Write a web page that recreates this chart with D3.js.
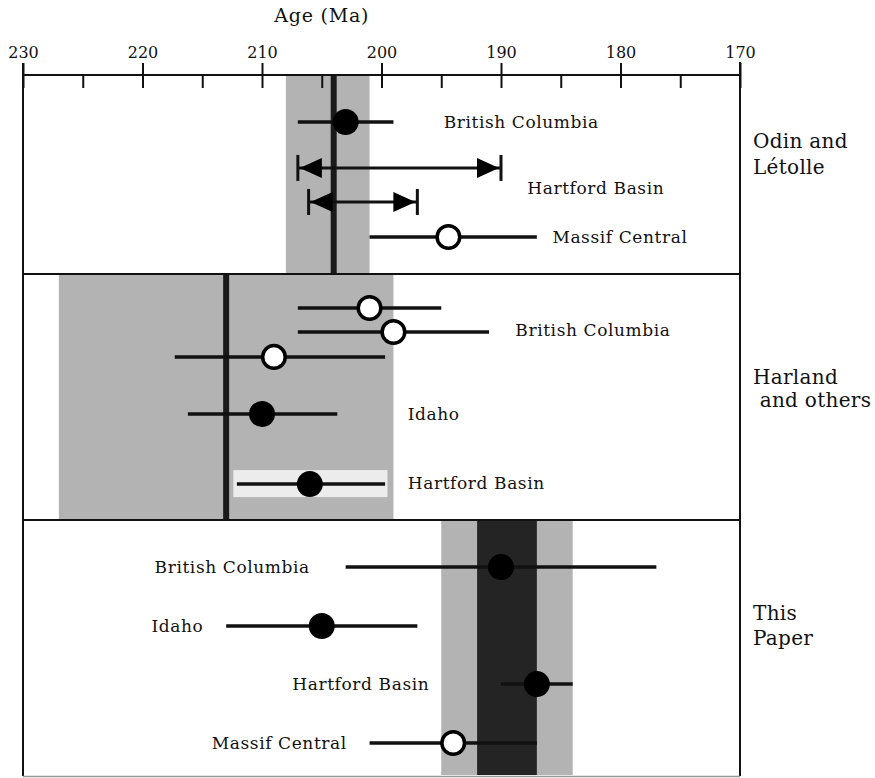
<!DOCTYPE html>
<meta charset="utf-8">
<title>Age (Ma) comparison</title>
<script src="https://d3js.org/d3.v7.min.js"></script>
<style>
body { margin: 0; background: #fff; }
svg { display: block; }
text { font-family: "DejaVu Serif", "Liberation Serif", serif; fill: #111; }
.axis path { display: none; }
.axis line { stroke: #111; stroke-width: 2px; }
.axis text { font-size: 16px; font-family: "DejaVu Serif", serif; fill: #111; }
.rowlabel { font-size: 17px; letter-spacing: 0.6px; }
.panellabel { font-size: 20px; letter-spacing: 0.3px; }
</style>
<body>
<div id="vis"></div>
<script>

// ---- data ----
var majorTicks = [230, 220, 210, 200, 190, 180, 170];
var minorTicks = [225, 215, 205, 195, 185, 175];

var panels = ["Odin and Létolle", "Harland and others", "This Paper"];
var panelLabelLines = [["Odin and", "Létolle"], ["Harland", " and others"], ["This", "Paper"]];

// shaded age ranges per panel [panel, from, to, tone]
var bands = [
  [0, 208, 201, "light"],
  [1, 227, 199, "light"],
  [2, 195, 184, "light"],
  [2, 192, 187, "dark"]
];
// preferred age (heavy vertical line) per panel
var centerLines = [[0, 204], [1, 213]];

// dated points: panel, slot (0-10 down the panel), age, min, max, filled?
var points = [
  [0, 2.36, 203, 207, 199, true],
  [0, 8.14, 194.4, 201, 187, false],
  [1, 1.38, 201, 207, 195, false],
  [1, 2.36, 199, 207, 191, false],
  [1, 3.37, 209, 217.3, 199.7, false],
  [1, 5.69, 210, 216.2, 203.7, true],
  [1, 8.54, 206, 212.1, 199.7, true],
  [2, 1.84, 190, 203, 177, true],
  [2, 4.14, 205, 213, 197, true],
  [2, 6.41, 187, 190, 184, true],
  [2, 8.71, 194, 201, 187, false]
];
// age ranges drawn with arrow heads (Hartford Basin, Odin and Létolle)
var arrowRanges = [
  [0, 4.67, 207, 190],
  [0, 6.38, 206.1, 197]
];
// pale strip behind the Harland Hartford Basin point
var strips = [[1, 8.54, 212.4, 199.5]];

// row labels: panel, slot, age anchor, anchor side
var labels = [
  [0, 2.36, 194.8, "British Columbia", "start"],
  [0, 5.65, 187.8, "Hartford Basin", "start"],
  [0, 8.14, 185.7, "Massif Central", "start"],
  [1, 2.28, 188.8, "British Columbia", "start"],
  [1, 5.69, 197.8, "Idaho", "start"],
  [1, 8.5, 197.8, "Hartford Basin", "start"],
  [2, 1.84, 206, "British Columbia", "end"],
  [2, 4.14, 214.9, "Idaho", "end"],
  [2, 6.41, 196, "Hartford Basin", "end"],
  [2, 8.71, 202.9, "Massif Central", "end"]
];

// ---- layout ----
var width = 875, height = 778;
var panelEdges = [75, 274, 520, 776];

var x = d3.scaleLinear().domain([230, 170]).range([23, 740]);
var yScales = panels.map(function(p, i) {
  return d3.scaleLinear().domain([0, 10]).range([panelEdges[i], panelEdges[i + 1]]);
});
function yy(panel, slot) { return yScales[panel](slot); }

var svg = d3.select("#vis").append("svg")
  .attr("width", width)
  .attr("height", height);

// bands
svg.append("g").selectAll("rect")
  .data(bands)
  .enter().append("rect")
  .attr("x", function(d) { return x(d[1]); })
  .attr("width", function(d) { return x(d[2]) - x(d[1]); })
  .attr("y", function(d) { return panelEdges[d[0]] + 1; })
  .attr("height", function(d) { return panelEdges[d[0] + 1] - panelEdges[d[0]] - 2; })
  .style("fill", function(d) { return d[3] === "dark" ? "#242424" : "#b3b3b3"; });

svg.append("g").selectAll("rect")
  .data(strips)
  .enter().append("rect")
  .attr("x", function(d) { return x(d[2]); })
  .attr("width", function(d) { return x(d[3]) - x(d[2]); })
  .attr("y", function(d) { return yy(d[0], d[1]) - 14; })
  .attr("height", 27)
  .style("fill", "#ececec");

// heavy vertical lines
svg.append("g").selectAll("line")
  .data(centerLines)
  .enter().append("line")
  .attr("x1", function(d) { return x(d[1]); })
  .attr("x2", function(d) { return x(d[1]); })
  .attr("y1", function(d) { return panelEdges[d[0]]; })
  .attr("y2", function(d) { return panelEdges[d[0] + 1]; })
  .style("stroke", "#1a1a1a")
  .style("stroke-width", 6);

// frame
var frame = svg.append("g").style("stroke", "#111").style("stroke-width", 2);
frame.append("line").attr("x1", x(230)).attr("x2", x(230)).attr("y1", 63).attr("y2", 776);
frame.append("line").attr("x1", x(170)).attr("x2", x(170)).attr("y1", 62).attr("y2", 776);
frame.selectAll(".divider")
  .data(panelEdges.slice(1, 3))
  .enter().append("line")
  .attr("x1", x(230)).attr("x2", x(170))
  .attr("y1", function(d) { return d; })
  .attr("y2", function(d) { return d; });
frame.append("line")
  .attr("x1", x(230)).attr("x2", x(170))
  .attr("y1", 776.5).attr("y2", 776.5)
  .style("stroke", "#999").style("stroke-width", 1.5);

// axis
var axisG = svg.append("g").attr("class", "axis").attr("transform", "translate(0,75)");
axisG.call(d3.axisTop(x).tickValues(majorTicks).tickSize(12).tickSizeOuter(0).tickPadding(5).tickFormat(d3.format("d")));
svg.append("g").attr("class", "axis").attr("transform", "translate(0,75)")
  .call(d3.axisBottom(x).tickValues(majorTicks.concat(minorTicks)).tickSize(13).tickSizeOuter(0).tickFormat(""));
svg.append("line")
  .attr("x1", x(230)).attr("x2", x(170))
  .attr("y1", 75).attr("y2", 75)
  .style("stroke", "#111").style("stroke-width", 2);

svg.append("text")
  .attr("x", x(205))
  .attr("y", 22)
  .attr("text-anchor", "middle")
  .style("font-size", "19px")
  .style("letter-spacing", "0.8px")
  .text("Age (Ma)");

// error bars
var pts = svg.append("g");
pts.selectAll("line")
  .data(points)
  .enter().append("line")
  .attr("x1", function(d) { return x(d[3]); })
  .attr("x2", function(d) { return x(d[4]); })
  .attr("y1", function(d) { return yy(d[0], d[1]); })
  .attr("y2", function(d) { return yy(d[0], d[1]); })
  .style("stroke", "#111")
  .style("stroke-width", 3.5);

pts.selectAll("circle")
  .data(points)
  .enter().append("circle")
  .attr("cx", function(d) { return x(d[2]); })
  .attr("cy", function(d) { return yy(d[0], d[1]); })
  .attr("r", function(d) { return d[5] ? 13 : 11.3; })
  .style("fill", function(d) { return d[5] ? "#000" : "#fff"; })
  .style("stroke", "#000")
  .style("stroke-width", function(d) { return d[5] ? 0 : 3.5; });

// arrow ranges
var arr = svg.append("g").selectAll("g")
  .data(arrowRanges)
  .enter().append("g");
arr.append("line")
  .attr("x1", function(d) { return x(d[2]); })
  .attr("x2", function(d) { return x(d[3]); })
  .attr("y1", function(d) { return yy(d[0], d[1]); })
  .attr("y2", function(d) { return yy(d[0], d[1]); })
  .style("stroke", "#111").style("stroke-width", 3);
arr.selectAll(".cap")
  .data(function(d) { return [[d[0], d[1], d[2]], [d[0], d[1], d[3]]]; })
  .enter().append("line")
  .attr("x1", function(d) { return x(d[2]); })
  .attr("x2", function(d) { return x(d[2]); })
  .attr("y1", function(d) { return yy(d[0], d[1]) - 13; })
  .attr("y2", function(d) { return yy(d[0], d[1]) + 13; })
  .style("stroke", "#111").style("stroke-width", 3);
arr.selectAll(".head")
  .data(function(d) { return [[d[0], d[1], d[2], 1], [d[0], d[1], d[3], -1]]; })
  .enter().append("path")
  .attr("d", function(d) {
    var tx = x(d[2]) + d[3] * 2, ty = yy(d[0], d[1]);
    return "M" + tx + "," + ty + "L" + (tx + d[3] * 22) + "," + (ty - 10) +
      "L" + (tx + d[3] * 22) + "," + (ty + 10) + "Z";
  })
  .style("fill", "#000");

// row labels
svg.append("g").selectAll("text")
  .data(labels)
  .enter().append("text")
  .attr("class", "rowlabel")
  .attr("x", function(d) { return x(d[2]); })
  .attr("y", function(d) { return yy(d[0], d[1]); })
  .attr("dy", "0.36em")
  .attr("text-anchor", function(d) { return d[4]; })
  .text(function(d) { return d[3]; });

// panel labels
var baselines = [[148, 174], [384, 407], [620, 645]];
svg.append("g").selectAll("text")
  .data(panelLabelLines)
  .enter().append("text")
  .attr("class", "panellabel")
  .attr("x", 753)
  .attr("y", function(d, i) { return baselines[i][0]; })
  .each(function(d, i) {
    d3.select(this).selectAll("tspan")
      .data(d)
      .enter().append("tspan")
      .attr("x", 753)
      .attr("y", function(t, j) { return baselines[i][j]; })
      .style("white-space", "pre")
      .text(function(t) { return t; });
  });

</script>
</body>
